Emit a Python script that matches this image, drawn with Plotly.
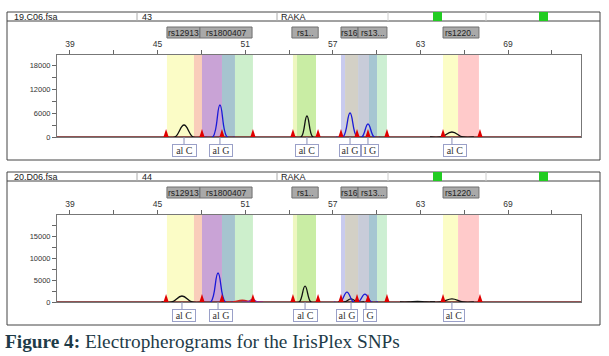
import plotly.graph_objects as go

W, H = 609, 356

# ---------------- data ----------------
x_tick_vals = [39, 42, 45, 48, 51, 54, 57, 60, 63, 66, 69, 72]
x_tick_text = ['39', '', '45', '', '51', '', '57', '', '63', '', '69', '']
y1_tick_vals = [0, 3000, 6000, 9000, 12000, 15000, 18000]
y1_tick_text = ['0', '', '6000', '', '12000', '', '18000']
y2_tick_vals = [0, 2500, 5000, 7500, 10000, 12500, 15000, 17500]
y2_tick_text = ['0', '', '5000', '', '10000', '', '15000', '']

# allele bins (size units)
bin_start = [45.64, 47.49, 48.04, 49.41, 50.30, 54.27, 54.55, 57.56, 57.84, 58.73, 59.48, 60.03, 64.55, 65.58]
bin_end   = [47.49, 48.04, 49.41, 50.30, 51.53, 54.55, 55.85, 57.84, 58.73, 59.48, 60.03, 60.71, 65.58, 67.01]
bin_color = ['#FBFCC6', '#F9CDBA', '#C9A3D6', '#A6C4CF', '#CDEFCC', '#EEF7C0', '#C9EDA4',
             '#C9CBEE', '#D3D0C6', '#C8CCD9', '#A6C6D2', '#CDEFD3', '#FCFDC6', '#FFCACA']
bin_markers = [45.58, 48.04, 49.41, 51.53, 54.27, 55.99, 57.56, 58.66, 59.41, 60.71, 64.55, 67.08]

# marker (SNP) name boxes
snp_names = ['rs12913', 'rs1800407', 'rs1..', 'rs16', 'rs13...', 'rs1220..']
snp_start = [45.64, 47.90, 54.20, 57.56, 58.73, 64.55]
snp_end   = [47.90, 51.47, 56.00, 58.73, 60.71, 67.01]

# panel 1 peaks (19.C06.fsa): centre, height, half-width
p1_black_x = [46.81, 55.23, 65.16]
p1_black_h = [3000, 5250, 1250]
p1_black_w = [0.62, 0.40, 0.75]
p1_blue_x = [49.27, 58.18, 59.41]
p1_blue_h = [8000, 6000, 3250]
p1_blue_w = [0.50, 0.48, 0.42]

# panel 2 peaks (20.D06.fsa)
p2_black_x = [46.67, 55.10, 58.25, 62.80, 65.16]
p2_black_h = [1360, 3600, 700, 150, 700]
p2_black_w = [0.70, 0.40, 0.45, 0.60, 0.75]
p2_blue_x = [49.14, 57.97, 59.20]
p2_blue_h = [6600, 2270, 1800]
p2_blue_w = [0.50, 0.45, 0.45]
p2_red_x = [50.80]
p2_red_h = [400]
p2_red_w = [0.70]
p2_purple_x = [51.50]
p2_purple_h = [600]
p2_purple_w = [0.35]

# allele calls
p1_call_x = [46.81, 49.27, 55.23, 58.18, 59.41, 65.16]
p1_label_x = [46.84, 49.34, 55.23, 58.18, 59.55, 65.34]
p1_label_t = ['al C', 'al G', 'al C', 'al G', 'l G', 'al C']
p1_label_w = [25, 24, 24, 22, 18, 24]
p2_call_x = [46.67, 49.14, 55.10, 58.25, 59.27, 65.16]
p2_label_x = [46.80, 49.34, 55.13, 57.97, 59.55, 65.30]
p2_label_t = ['al C', 'al G', 'al C', 'al G', 'G', 'al C']
p2_label_w = [24, 24, 25, 22, 14, 22]

X_RANGE = [38.11, 74.0]
Y1_RANGE = [0, 20500]
Y2_RANGE = [0, 19800]


def px(x):
    return x / W


def py(y):
    return 1 - y / H


def bumps(xs, hs, ws):
    xx, yy = [], []
    for c, h, w in sorted(zip(xs, hs, ws)):
        xx += [c - 2 * w, c - w, c, c + w, c + 2 * w, None]
        yy += [0, 0, h, 0, 0, None]
    return xx, yy


fig = go.Figure()
shapes = []
annots = []

panels = [
    dict(n=1, top=12, bot=160, ptop=55, pbot=137, yr=Y1_RANGE, tv=y1_tick_vals, tt=y1_tick_text,
         name='19.C06.fsa', num='43',
         traces=[(p1_black_x, p1_black_h, p1_black_w, '#111111'),
                 (p1_blue_x, p1_blue_h, p1_blue_w, '#1a1ad8')],
         call_x=p1_call_x, lab_x=p1_label_x, lab_t=p1_label_t, lab_w=p1_label_w),
    dict(n=2, top=172, bot=325, ptop=215, pbot=302, yr=Y2_RANGE, tv=y2_tick_vals, tt=y2_tick_text,
         name='20.D06.fsa', num='44',
         traces=[(p2_red_x, p2_red_h, p2_red_w, '#d02020'),
                 (p2_purple_x, p2_purple_h, p2_purple_w, '#7a2aa8'),
                 (p2_black_x, p2_black_h, p2_black_w, '#111111'),
                 (p2_blue_x, p2_blue_h, p2_blue_w, '#1a1ad8')],
         call_x=p2_call_x, lab_x=p2_label_x, lab_t=p2_label_t, lab_w=p2_label_w),
]

xfont = dict(family='Liberation Sans Narrow, Liberation Sans', size=8.5, color='#333')
yfont = dict(family='Liberation Sans Narrow, Liberation Sans', size=7.5, color='#333')
layout_axes = {}

for P in panels:
    n = P['n']
    xs = '' if n == 1 else str(n)
    xref, yref = 'x' + xs, 'y' + xs
    layout_axes['xaxis' + xs] = dict(
        domain=[px(57), px(581)], range=X_RANGE, side='top', anchor=yref,
        tickmode='array', tickvals=x_tick_vals, ticktext=x_tick_text,
        ticks='outside', ticklen=4, tickcolor='#666', showline=True, linecolor='#777',
        linewidth=1, mirror=True, showgrid=False, zeroline=False, tickfont=xfont,
        fixedrange=True, automargin=False)
    layout_axes['yaxis' + xs] = dict(
        domain=[py(P['pbot']), py(P['ptop'])], range=P['yr'], anchor=xref,
        tickmode='array', tickvals=P['tv'], ticktext=P['tt'],
        ticks='outside', ticklen=4, tickcolor='#666', showline=True, linecolor='#777',
        linewidth=1, mirror=True, showgrid=False, zeroline=False, tickfont=yfont,
        fixedrange=True, automargin=False)

    # bins
    for s, e, c in zip(bin_start, bin_end, bin_color):
        shapes.append(dict(type='rect', xref=xref, yref=yref + ' domain', x0=s, x1=e, y0=0, y1=1,
                           fillcolor=c, line=dict(width=0), layer='below'))

    # baseline trace (drawn first, peaks on top)
    fig.add_trace(go.Scatter(x=X_RANGE, y=[0, 0], mode='lines', xaxis=xref, yaxis=yref,
                             line=dict(color='#6b1a1a', width=1.6), showlegend=False,
                             hoverinfo='skip', cliponaxis=False))
    # peak traces
    for xsv, hsv, wsv, col in P['traces']:
        tx, ty = bumps(xsv, hsv, wsv)
        fig.add_trace(go.Scatter(x=tx, y=ty, mode='lines', xaxis=xref, yaxis=yref,
                                 connectgaps=False,
                                 line=dict(color=col, width=1.3, shape='spline', smoothing=1.2),
                                 showlegend=False, hoverinfo='skip'))

    # bin markers (red triangles)
    for m in bin_markers:
        shapes.append(dict(type='path', xref=xref, yref=yref, xsizemode='pixel', ysizemode='pixel',
                           xanchor=m, yanchor=0, path='M-2.6,0 L2.6,0 L0,8 Z',
                           fillcolor='#e00000', line=dict(width=0)))

    # outer frame and header row
    shapes.append(dict(type='rect', xref='paper', yref='paper', x0=px(7), x1=px(600),
                       y0=py(P['bot']), y1=py(P['top']), line=dict(color='#444', width=1)))
    shapes.append(dict(type='line', xref='paper', yref='paper', x0=px(7), x1=px(600),
                       y0=py(P['top'] + 9), y1=py(P['top'] + 9), line=dict(color='#444', width=1)))
    for dx, col in [(137, '#aaa'), (277, '#aaa'), (388, '#ccc'), (486, '#ccc')]:
        shapes.append(dict(type='line', xref='paper', yref='paper', x0=px(dx), x1=px(dx),
                           y0=py(P['top'] + 9), y1=py(P['top']), line=dict(color=col, width=1)))
    for gx in (433, 539):
        shapes.append(dict(type='rect', xref='paper', yref='paper', x0=px(gx), x1=px(gx + 9),
                           y0=py(P['top'] + 9), y1=py(P['top']), fillcolor='#22cc22',
                           line=dict(width=0)))
    hdr_font = dict(family='Liberation Sans', size=9, color='#222')
    for hx, txt in [(12, P['name']), (140, P['num']), (279, 'RAKA')]:
        annots.append(dict(text=txt, xref='paper', yref='paper', x=px(hx), y=py(P['top'] + 4.8),
                           xanchor='left', yanchor='middle', showarrow=False, font=hdr_font))

    # SNP name boxes
    bt = P['top'] + 15
    for nm, s, e in zip(snp_names, snp_start, snp_end):
        shapes.append(dict(type='rect', xref=xref, yref='paper', x0=s, x1=e, y0=py(bt + 11), y1=py(bt),
                           fillcolor='#A9A9A9', line=dict(color='#707070', width=1)))
        annots.append(dict(text=nm, xref=xref, yref='paper', x=(s + e) / 2, y=py(bt + 5.5),
                           xanchor='center', yanchor='middle', showarrow=False,
                           font=dict(family='Liberation Sans', size=8.5, color='#222')))

    # allele call labels
    lt = P['pbot'] + 7
    for cx in P['call_x']:
        shapes.append(dict(type='line', xref=xref, yref='paper', x0=cx, x1=cx,
                           y0=py(P['pbot']), y1=py(lt), line=dict(color='#8a90b8', width=1)))
    for lx, t, w in zip(P['lab_x'], P['lab_t'], P['lab_w']):
        annots.append(dict(text=t, xref=xref, yref='paper', x=lx, y=py(lt + 6),
                           xanchor='center', yanchor='middle', showarrow=False,
                           width=w - 4, height=9, bgcolor='white', bordercolor='#9aa0c8',
                           borderwidth=1, borderpad=1,
                           font=dict(family='Liberation Serif', size=10, color='#333')))

annots.append(dict(text='<b>Figure 4:</b> Electropherograms for the IrisPlex SNPs',
                   xref='paper', yref='paper', x=px(3), y=py(341), xanchor='left', yanchor='middle',
                   showarrow=False, font=dict(family='Liberation Serif', size=19.3, color='#1e3b48')))

fig.update_layout(width=W, height=H, margin=dict(l=0, r=0, t=0, b=0, autoexpand=False),
                  paper_bgcolor='white', plot_bgcolor='white',
                  shapes=shapes, annotations=annots, **layout_axes)

fig.write_html('out.html', config=dict(displayModeBar=False),
               post_script="document.body.style.margin='0';document.body.style.overflow='hidden';")
